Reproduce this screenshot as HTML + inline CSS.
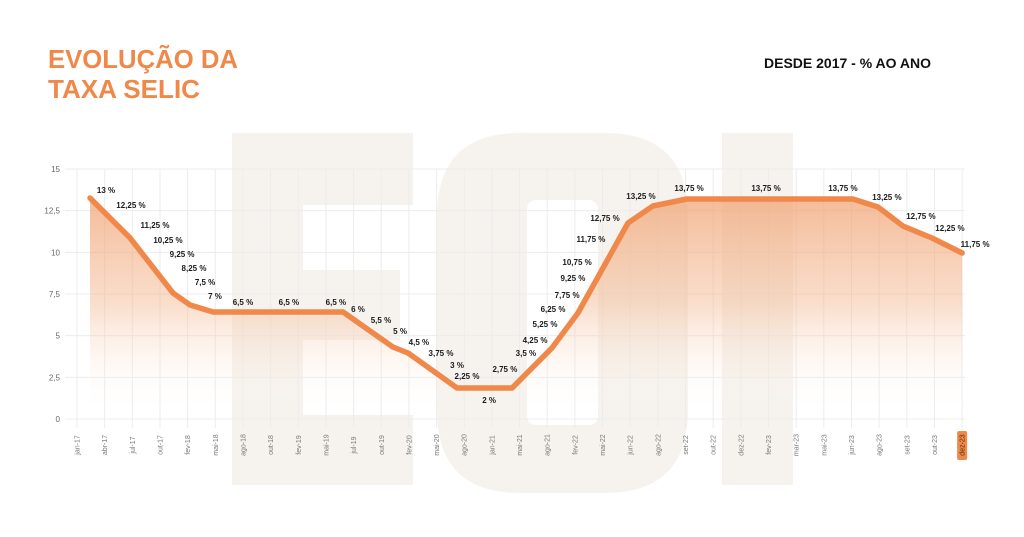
<!DOCTYPE html>
<html><head><meta charset="utf-8"><style>
html,body{margin:0;padding:0;background:#fff;width:1024px;height:537px;overflow:hidden;font-family:"Liberation Sans",sans-serif}
</style></head><body>
<svg width="1024" height="537" viewBox="0 0 1024 537" id="chart">
<defs>
<linearGradient id="areag" gradientUnits="userSpaceOnUse" x1="0" y1="190" x2="0" y2="415">
<stop offset="0" stop-color="#f0a070" stop-opacity="0.75"/>
<stop offset="0.5" stop-color="#f3b48a" stop-opacity="0.45"/>
<stop offset="1" stop-color="#ffffff" stop-opacity="0"/>
</linearGradient>
</defs>
<g fill="#f6f3ee">
<path d="M232 133H413V205H303V270H400V340H303V415H413V485H232Z"/>
<path d="M520 133H605Q688 133 688 216V410Q688 493 605 493H520Q437 493 437 410V216Q437 133 520 133ZM537 200Q527 200 527 210V415Q527 425 537 425H588Q598 425 598 415V210Q598 200 588 200Z" fill-rule="evenodd"/>
<rect x="722" y="133" width="71" height="352"/>
</g>
<text x="48" y="68" font-size="26" font-weight="bold" fill="#f0884a" textLength="190" lengthAdjust="spacingAndGlyphs">EVOLUÇÃO DA</text>
<text x="48" y="98" font-size="26" font-weight="bold" fill="#f0884a" textLength="152" lengthAdjust="spacingAndGlyphs">TAXA SELIC</text>
<text x="764" y="68" font-size="14" font-weight="bold" fill="#111">DESDE 2017 - % AO ANO</text>
<g id="grid"></g><g id="area"></g><g id="labels"></g>
</svg>
<script>
const xLabels=["jan-17","abr-17","jul-17","out-17","fev-18","mai-18","ago-18","out-18","fev-19","mai-19","jul-19","out-19","fev-20","mai-20","ago-20","jan-21","mai-21","ago-21","fev-22","mai-22","jun-22","ago-22","set-22","out-22","dez-22","fev-23","mar-23","mai-23","jun-23","ago-23","set-23","out-23","dez-23"];
const yTicks=[0,2.5,5,7.5,10,12.5,15];
const yTickLabels=["0","2,5","5","7,5","10","12,5","15"];
const lineIdx=[0.47,1.92,3.47,4.09,4.92,9.62,11.42,11.97,13.74,15.73,17.17,18.11,19.92,20.82,22.05,28.05,28.96,29.86,30.91,32.0];
const lineVal=[13.26,10.86,7.56,6.84,6.42,6.42,4.32,3.96,1.86,1.86,4.26,6.36,11.76,12.78,13.2,13.2,12.72,11.58,10.86,9.96];
const rateLabels=["13 %","12,25 %","11,25 %","10,25 %","9,25 %","8,25 %","7,5 %","7 %","6,5 %","6,5 %","6,5 %","6 %","5,5 %","5 %","4,5 %","3,75 %","3 %","2,25 %","2 %","2,75 %","3,5 %","4,25 %","5,25 %","6,25 %","7,75 %","9,25 %","10,75 %","11,75 %","12,75 %","13,25 %","13,75 %","13,75 %","13,75 %","13,25 %","12,75 %","12,25 %","11,75 %"];
const rateIdx=[1.05,1.95,2.82,3.29,3.80,4.23,4.63,4.99,6.0,7.66,9.36,10.16,10.99,11.68,12.36,13.16,13.74,14.1,14.9,15.47,16.23,16.56,16.92,17.21,17.72,17.93,18.08,18.58,19.09,20.39,22.13,24.91,27.69,29.28,30.51,31.56,32.47];
const rateVal=[13.74,12.84,11.64,10.74,9.9,9.06,8.22,7.38,7.02,7.02,7.02,6.6,5.94,5.28,4.62,3.96,3.24,2.58,1.14,3.0,3.96,4.74,5.7,6.6,7.44,8.46,9.42,10.8,12.06,13.38,13.86,13.86,13.86,13.32,12.18,11.46,10.5];
const NS="http://www.w3.org/2000/svg";
const X=i=>77+i*27.66, Y=v=>419-v*250/15;
function mk(t,a,p){const e=document.createElementNS(NS,t);for(const k in a)e.setAttribute(k,a[k]);p.appendChild(e);return e;}
const grid=document.getElementById('grid'),area=document.getElementById('area'),lab=document.getElementById('labels');
yTicks.forEach((v,i)=>{
 const l=mk('line',{x1:65,x2:965,y1:Y(v),y2:Y(v),stroke:'#ececec','stroke-width':1},grid);
 
 
 const t=mk('text',{x:60,y:Y(v)+3,'font-size':8,fill:'#666','text-anchor':'end'},grid);
 t.textContent=yTickLabels[i];
 
 
});
xLabels.forEach((s,i)=>{
 const x=X(i);
 const l=mk('line',{x1:x,x2:x,y1:169,y2:428,stroke:'#ececec','stroke-width':1},grid);
 
 
 const last=i===xLabels.length-1;
 if(last){const r=mk('rect',{x:x-5,y:431,width:10,height:29,rx:2,fill:'#f0884a'},grid);
  
  }
 const t=mk('text',{x:0,y:0,'font-size':7,fill:last?'#5a2a10':'#777','text-anchor':'middle',transform:`translate(${x+2.5},445) rotate(-90)`},grid);
 t.textContent=s;
 
 
});
const pts=lineIdx.map((i,k)=>[X(i),Y(lineVal[k])]);
let d='M'+pts.map(p=>p.join(',')).join('L');
const a=mk('path',{d:d+`L${pts[pts.length-1][0]},419L${pts[0][0]},419Z`,fill:'url(#areag)'},area);


const ln=mk('path',{d:d,fill:'none',stroke:'#f0884a','stroke-width':5.5,'stroke-linejoin':'round','stroke-linecap':'round'},area);


rateLabels.forEach((s,k)=>{
 const t=mk('text',{x:X(rateIdx[k]),y:Y(rateVal[k])+3,'font-size':8,'font-weight':'bold',fill:'#1a1a1a','text-anchor':'middle'},lab);
 t.textContent=s;
 
 
});
</script>
</body></html>
